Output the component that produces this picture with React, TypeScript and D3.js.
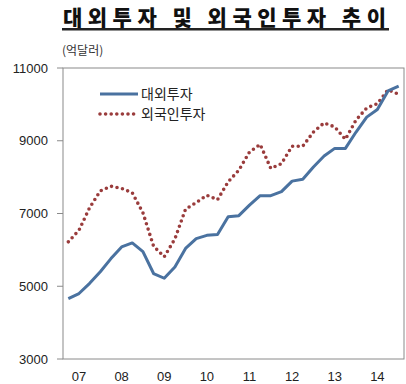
import React from "react";
import * as d3 from "d3";

const years = ["07", "08", "09", "10", "11", "12", "13", "14"];
const quarters = years.flatMap((y) => ["1", "2", "3", "4"].map((q) => `${y}Q${q}`));

const outward = [
  4660, 4800, 5080, 5400, 5760, 6080, 6190, 5950,
  5350, 5220, 5530, 6040, 6310, 6400, 6420, 6910,
  6940, 7230, 7490, 7490, 7600, 7890, 7940, 8280,
  8580, 8790, 8790, 9240, 9650, 9860, 10370, 10500,
];
const foreign = [
  6220, 6540, 7160, 7620, 7750, 7690, 7570, 7020,
  6100, 5810, 6300, 7120, 7300, 7500, 7380, 7870,
  8190, 8690, 8900, 8240, 8370, 8850, 8850, 9240,
  9490, 9380, 9040, 9570, 9900, 10020, 10400, 10280,
];
const yTicks = [3000, 5000, 7000, 9000, 11000];
const seriesNames = ["대외투자", "외국인투자"];

const W = 406;
const H = 384;
const plot = { left: 63, right: 404, top: 68, bottom: 359 };

export default function App() {
  const x = d3.scaleBand().domain(quarters).range([plot.left, plot.right]);
  const y = d3.scaleLinear().domain([3000, 11000]).range([plot.bottom, plot.top]);
  const cx = (i: number) => (x(quarters[i]) as number) + x.bandwidth() / 2;
  const line = d3
    .line<number>()
    .x((_, i) => cx(i))
    .y((d) => y(d));

  const font = "'Noto Sans CJK KR', 'Noto Sans', sans-serif";

  return (
    <svg
      width={W}
      height={H}
      style={{ position: "absolute", left: 0, top: 0, background: "#fff" }}
    >
      <text
        x={63}
        y={25}
        fontSize={21}
        fontWeight={900}
        fontFamily="'Noto Sans CJK KR', serif"
        fill="#111"
        textLength={323}
        lengthAdjust="spacing"
      >
        대외투자 및 외국인투자 추이
      </text>
      <rect x={62} y={28} width={327} height={2.5} fill="#222" />

      <text x={62} y={55} fontSize={12} fontFamily={font} fill="#333">
        (억달러)
      </text>

      <rect
        x={plot.left}
        y={plot.top}
        width={plot.right - plot.left}
        height={plot.bottom - plot.top}
        fill="none"
        stroke="#8a8a8a"
        strokeWidth={1}
      />

      {yTicks.map((t) => (
        <g key={t}>
          <line x1={57} x2={plot.left} y1={y(t)} y2={y(t)} stroke="#8a8a8a" />
          <text
            x={48}
            y={y(t)}
            dy="0.35em"
            textAnchor="end"
            fontSize={13}
            fontFamily="'Liberation Sans', sans-serif"
            fill="#222"
          >
            {t}
          </text>
        </g>
      ))}

      {years.map((yr, k) => (
        <text
          key={yr}
          x={cx(k * 4 + 1)}
          y={381}
          textAnchor="middle"
          fontSize={13}
          fontFamily="'Liberation Sans', sans-serif"
          fill="#222"
        >
          {yr}
        </text>
      ))}

      <path
        d={line(foreign) || ""}
        fill="none"
        stroke="#9a3c3c"
        strokeWidth={3.6}
        strokeLinecap="round"
        strokeDasharray="0 5.6"
      />
      <path
        d={line(outward) || ""}
        fill="none"
        stroke="#4a72a0"
        strokeWidth={3}
        strokeLinejoin="round"
      />

      <line x1={100} x2={138} y1={94} y2={94} stroke="#4a72a0" strokeWidth={3} />
      <text x={141} y={94} dy="0.35em" fontSize={14} fontFamily={font} fill="#222">
        {seriesNames[0]}
      </text>
      <line
        x1={100}
        x2={138}
        y1={114}
        y2={114}
        stroke="#9a3c3c"
        strokeWidth={3.6}
        strokeLinecap="round"
        strokeDasharray="0 5.6"
      />
      <text x={141} y={114} dy="0.35em" fontSize={14} fontFamily={font} fill="#222">
        {seriesNames[1]}
      </text>
    </svg>
  );
}
